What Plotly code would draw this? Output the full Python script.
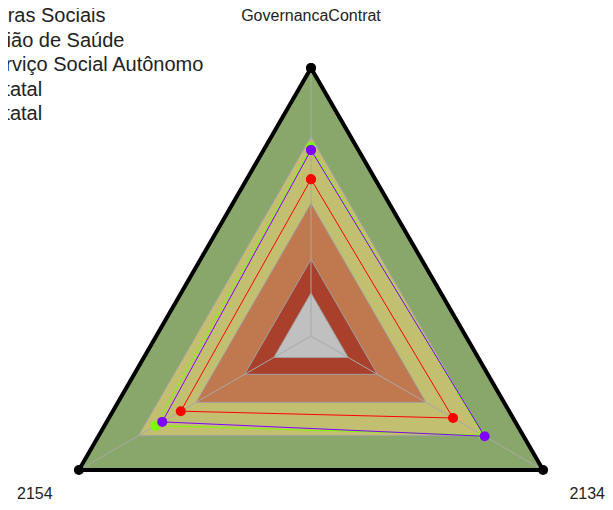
import numpy as np
import plotly.graph_objects as go

# ---------------------------------------------------------------------------
# DATA (radial values as a fraction of the outer triangle)
# ---------------------------------------------------------------------------

categories = ["GovernancaContrat", "2154", "2134"]
angles_deg = [90, 210, 330]

band_levels = [1.0, 0.744, 0.495, 0.286, 0.16]
band_colors = ["#89A76B", "#C2BF70", "#C0784F", "#A8402B", "#C0C0C0"]

series_names = [
    "Obras Sociais",
    "União de Saúde",
    "Serviço Social Autônomo",
    "Estatal",
    "Estatal",
]
series_colors = ["#7CFC00", "#8000FF", "#FF0000", "#FF8C00", "#1E90FF"]
series_values = [
    [0.704, 0.669, 0.740],
    [0.694, 0.641, 0.748],
    [0.585, 0.561, 0.612],
    [],
    [],
]

label_radius = 1.19

# ---------------------------------------------------------------------------
# HELPERS
# ---------------------------------------------------------------------------

theta = np.radians(angles_deg)


def to_xy(values, closed=True):
    r = np.asarray(values, dtype=float)
    x = r * np.cos(theta[: r.size])
    y = r * np.sin(theta[: r.size])
    if closed and r.size:
        x = np.append(x, x[0])
        y = np.append(y, y[0])
    return x, y


fig = go.Figure()

# concentric bands
for level, color in zip(band_levels, band_colors):
    bx, by = to_xy([level] * len(categories))
    fig.add_trace(go.Scatter(
        x=bx, y=by, mode="lines", fill="toself", fillcolor=color,
        line=dict(color="#A0A0A0", width=1), hoverinfo="skip"
    ))

# spokes
for t in theta:
    fig.add_trace(go.Scatter(
        x=[0, np.cos(t)], y=[0, np.sin(t)], mode="lines",
        line=dict(color="#A8A8A8", width=1), hoverinfo="skip"
    ))

# outer frame
ox, oy = to_xy([band_levels[0]] * len(categories))
fig.add_trace(go.Scatter(
    x=ox, y=oy, mode="lines+markers",
    line=dict(color="black", width=4),
    marker=dict(color="black", size=10),
    hoverinfo="skip"
))

# series
for name, color, vals in zip(series_names, series_colors, series_values):
    if not vals:
        continue
    sx, sy = to_xy(vals)
    fig.add_trace(go.Scatter(
        x=sx, y=sy, name=name, mode="lines+markers",
        line=dict(color=color, width=1),
        marker=dict(color=color, size=10)
    ))

# category labels
lx, ly = to_xy([label_radius] * len(categories), closed=False)
fig.add_trace(go.Scatter(
    x=lx, y=ly, mode="text", text=categories,
    textposition="middle center", cliponaxis=False,
    textfont=dict(family="Liberation Sans, Arial", size=16, color="#222222"),
    hoverinfo="skip"
))

# ---------------------------------------------------------------------------
# LAYOUT
# ---------------------------------------------------------------------------

# the page body adds an 8px margin, so the figure is shifted by that much
W, H = 613, 510
cx, cy, R = 303, 328, 268

# legend text (partly off the left edge, as in the original)
legend_left_px = -29
legend_top_px = 7
legend_step_px = 24.6

annotations = []
for i, name in enumerate(series_names):
    annotations.append(dict(
        x=legend_left_px / W,
        y=1 - (legend_top_px + i * legend_step_px) / H,
        xref="paper", yref="paper",
        xanchor="left", yanchor="middle",
        text=name, showarrow=False,
        font=dict(family="Liberation Sans, Arial", size=20, color="#222222")
    ))

fig.update_layout(
    width=W,
    height=H,
    margin=dict(l=0, r=0, t=0, b=0, autoexpand=False),
    paper_bgcolor="white",
    plot_bgcolor="white",
    showlegend=False,
    font=dict(family="Liberation Sans, Arial"),
    xaxis=dict(range=[-cx / R, (W - cx) / R], visible=False, fixedrange=True),
    yaxis=dict(range=[-(H - cy) / R, cy / R], visible=False, fixedrange=True),
    annotations=annotations,
)

fig.write_html("out.html")
